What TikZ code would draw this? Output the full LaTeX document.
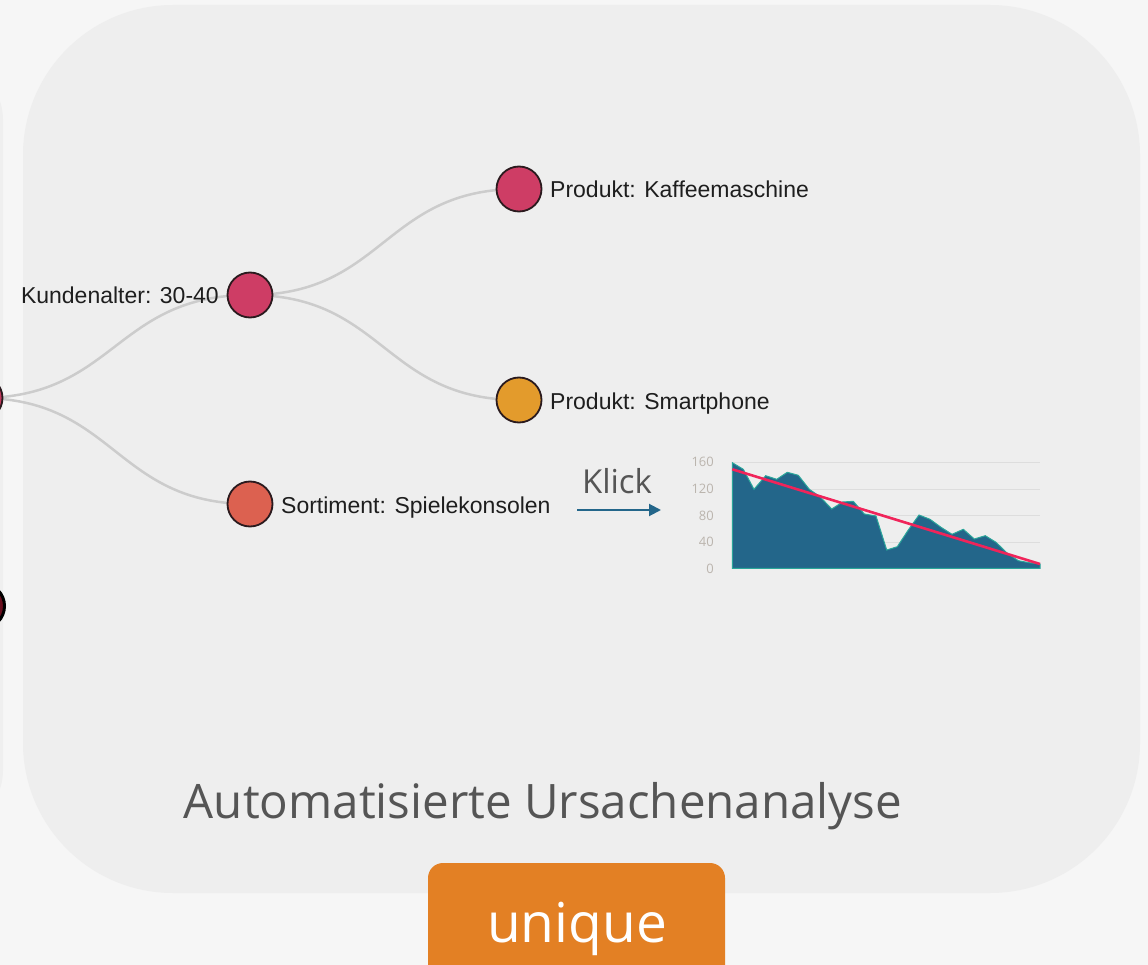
\documentclass[tikz,border=0pt]{standalone}
\usepackage{fontspec}
\setmainfont{Liberation Sans}
\newfontfamily\uifont{Open Sans}
\usetikzlibrary{arrows.meta}
\definecolor{pagebg}{HTML}{F6F6F6}
\definecolor{panelc}{HTML}{EEEEEE}
\definecolor{panelL}{HTML}{EFEFEF}
\definecolor{linkc}{HTML}{CCCCCC}
\definecolor{nborder}{HTML}{2A1A1E}
\definecolor{crimson}{HTML}{CE3D65}
\definecolor{salmon}{HTML}{DC6150}
\definecolor{amber}{HTML}{E39B2C}
\definecolor{rootc}{HTML}{C23A5E}
\definecolor{lowc}{HTML}{6A0F1E}
\definecolor{lbltext}{HTML}{1E1E1E}
\definecolor{uigray}{HTML}{555555}
\definecolor{area}{HTML}{23668A}
\definecolor{areaedge}{HTML}{2AA69A}
\definecolor{trend}{HTML}{F0245A}
\definecolor{gridc}{HTML}{DDDDDD}
\definecolor{ticktext}{HTML}{BBB5AE}
\definecolor{btn}{HTML}{E38024}
\pgfdeclarelayer{bglayer}
\pgfdeclarelayer{linklayer}
\pgfsetlayers{bglayer,linklayer,main}
\tikzset{
  tnode/.style={circle, draw=nborder, line width=1.8pt, minimum size=45pt, inner sep=0pt},
  lbl/.style={font=\fontsize{23}{26}\selectfont, text=lbltext, inner sep=0pt},
  link/.style={draw=linkc, line width=2.5pt},
  tick/.style={font=\uifont\fontsize{13}{15}\selectfont, text=ticktext, anchor=east, inner sep=0pt},
}
\begin{document}
\begin{tikzpicture}[x=1pt,y=-1pt]
\useasboundingbox (0,0) rectangle (1148,965);
\clip (0,0) rectangle (1148,965);
\begin{pgfonlayer}{bglayer}
\fill[pagebg] (0,0) rectangle (1148,965);
\fill[panelL, rounded corners=60pt] (-600,60) rectangle (3,830);
\fill[panelc, rounded corners=150pt] (23,5) rectangle (1140,893);
\end{pgfonlayer}

% tree nodes
\node[tnode, fill=rootc] (root) at (-20,398) {};
\node[tnode, fill=lowc, draw=black, line width=3pt] (low) at (-18,606) {};
\node[tnode, fill=crimson] (kunde) at (250,295) {};
\node[tnode, fill=crimson] (kaffee) at (519,189) {};
\node[tnode, fill=amber] (smart) at (519,400) {};
\node[tnode, fill=salmon] (sort) at (250,504) {};

\node[lbl, anchor=base east] (lkunde) at (219,304) {Kundenalter: 30-40};
\node[lbl, anchor=base west] (lkaffee) at (550,198) {Produkt: Kaffeemaschine};
\node[lbl, anchor=base west] (lsmart) at (550,409) {Produkt: Smartphone};
\node[lbl, anchor=base west] (lsort) at (281,513) {Sortiment: Spielekonsolen};

\begin{pgfonlayer}{linklayer}
\draw[link] (root.center) .. controls (115,398) and (115,295) .. (kunde.center);
\draw[link] (root.center) .. controls (115,398) and (115,504) .. (sort.center);
\draw[link] (kunde.center) .. controls (384,295) and (384,189) .. (kaffee.center);
\draw[link] (kunde.center) .. controls (384,295) and (384,400) .. (smart.center);
\end{pgfonlayer}

% chart
\foreach \yy in {462.7,489.3,515.7,542} \draw[gridc, line width=0.8pt] (732,\yy) -- (1040,\yy);
\node[tick] (t160) at (714,462) {160};
\node[tick] (t120) at (714,489) {120};
\node[tick] (t80) at (714,515.5) {80};
\node[tick] (t40) at (714,542) {40};
\node[tick] (t0) at (714,568.5) {0};
\fill[area] (732.3,568.3) -- (732.3,462.7) -- (743.3,469.3) -- (754,489.3) -- (765.7,475.7) -- (776.7,479.3) -- (787.3,472.3) -- (798.3,475.3) -- (809.3,489.3) -- (820,496.7) -- (831.7,509) -- (842.7,502) -- (853.3,501.3) -- (864.3,514) -- (876,516) -- (886.7,550) -- (897.3,546.7) -- (908.3,530) -- (919,515) -- (930,519.3) -- (941,527.3) -- (952,534.3) -- (963.3,529.3) -- (974.3,539) -- (985.3,535.7) -- (996,542.3) -- (1006.7,552.7) -- (1018.3,560.7) -- (1029.3,562.7) -- (1040,564) -- (1040,568.3) -- cycle;
\draw[areaedge, line width=1pt] (732.3,568.3) -- (732.3,462.7) -- (743.3,469.3) -- (754,489.3) -- (765.7,475.7) -- (776.7,479.3) -- (787.3,472.3) -- (798.3,475.3) -- (809.3,489.3) -- (820,496.7) -- (831.7,509) -- (842.7,502) -- (853.3,501.3) -- (864.3,514) -- (876,516) -- (886.7,550) -- (897.3,546.7) -- (908.3,530) -- (919,515) -- (930,519.3) -- (941,527.3) -- (952,534.3) -- (963.3,529.3) -- (974.3,539) -- (985.3,535.7) -- (996,542.3) -- (1006.7,552.7) -- (1018.3,560.7) -- (1029.3,562.7) -- (1040,564) -- (1040,568.3) -- cycle;
\coordinate (tr1) at (732.3,469.3);
\coordinate (tr2) at (1040,564);
\draw[trend, line width=2.6pt] (tr1) -- (tr2);

% Klick arrow
\node[font=\uifont\fontsize{33}{38}\selectfont, text=uigray, inner sep=0pt] (klick) at (617,481) {Klick};
\coordinate (a1) at (577,510);
\coordinate (a2) at (661,510);
\draw[area, line width=2pt, -{Triangle[length=12pt,width=12pt]}] (a1) -- (a2);

% title
\node[font=\uifont\fontsize{47.5}{55}\selectfont, text=uigray, anchor=base, inner sep=0pt] (title) at (543,818) {Automatisierte Ursachenanalyse};

% button
\fill[btn, rounded corners=15pt] (428,863) rectangle (725,1010);
\node[font=\uifont\fontsize{55}{62}\selectfont, text=white, anchor=base, inner sep=0pt] (uniq) at (577,942) {unique};
\end{tikzpicture}
\end{document}
